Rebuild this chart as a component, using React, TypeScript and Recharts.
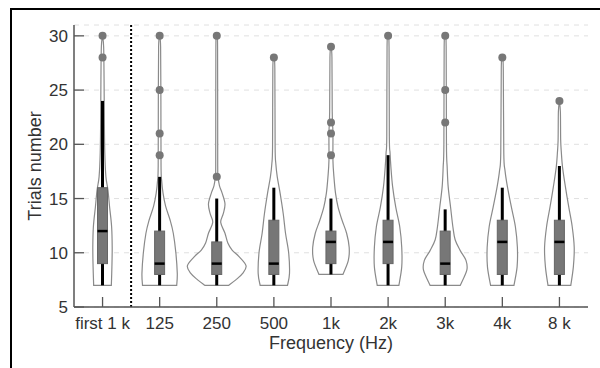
import React from 'react';
import { ComposedChart, Bar, Scatter, XAxis, YAxis, CartesianGrid, ReferenceLine, Label } from 'recharts';

// categories along the frequency axis
const categories = ['first 1 k', '125', '250', '500', '1k', '2k', '3k', '4k', '8 k'];

// violin extent (bottom is cut at the smallest observation)
const violinMin = [7, 7, 7, 7, 8, 7, 7, 7, 7];
const violinMax = [30, 30, 30, 28, 29, 30, 30, 28, 24];

// box plot stats
const whiskerLow = [7, 7, 7, 7, 8, 7, 7, 7, 7];
const whiskerHigh = [24, 17, 15, 16, 15, 19, 14, 16, 18];
const q1 = [9, 8, 8, 8, 9, 9, 8, 8, 8];
const medians = [12, 9, 9, 9, 11, 11, 9, 11, 11];
const q3 = [16, 12, 11, 13, 12, 13, 12, 13, 13];
const outliers = [
  [28, 30],
  [19, 21, 25, 30],
  [17, 30],
  [28],
  [19, 21, 22, 29],
  [30],
  [22, 25, 30],
  [28],
  [24],
];

// density profile per violin: [value, relative half width in % of half band]
const densityProfiles: [number, number][][] = [
  [[7, 31], [8.7, 33], [10.5, 34], [12.4, 32], [14.2, 25], [15.8, 19], [17, 12], [19.2, 8], [22, 6.5], [26, 5.5], [29, 4], [30, 0]],
  [[7, 60], [8.1, 62], [10, 57], [11.8, 48], [13, 37], [14.3, 21], [15.5, 12], [16.7, 7], [18, 5], [24, 4.5], [29, 3.5], [30, 0]],
  [[7, 42], [7.5, 67], [8.1, 91], [8.8, 103], [9.6, 80], [10.25, 54], [10.9, 39], [11.8, 29], [12.8, 14], [13.6, 23], [14.5, 29], [15.5, 19], [16.2, 9.5], [17, 5], [18, 3.5], [29, 3], [30, 0]],
  [[7, 48], [8.1, 55], [10, 52], [11.8, 41], [13.6, 33], [15.5, 22], [17, 12], [18.2, 7], [19.8, 4.5], [27, 3.5], [28, 0]],
  [[8, 42], [9.3, 61], [10.5, 64], [11.8, 55], [13, 39], [14.2, 25], [15.5, 16], [17, 10.5], [18.5, 7], [21, 7], [23, 4.5], [28, 3.5], [29, 0]],
  [[7, 38], [8.7, 48], [10.5, 48], [12.4, 41], [14.2, 27], [16.1, 16], [17.9, 10], [19.2, 7], [20.7, 4.5], [29, 3.5], [30, 0]],
  [[7, 53], [8.4, 76], [9.3, 73], [10.2, 53], [11.2, 35], [12.4, 27], [14.2, 19], [16.1, 10.5], [17.9, 7], [20, 4.5], [29, 3.5], [30, 0]],
  [[7, 41], [8.7, 52], [10.5, 53], [12.4, 46], [14.2, 32], [16.1, 18], [17.6, 9.5], [19.2, 5.3], [27, 3.5], [28, 0]],
  [[7, 40], [8.7, 49], [10.5, 52], [12.4, 45], [14.2, 33], [16.1, 21], [17.9, 11], [19.2, 7], [20.4, 4.5], [23, 3.5], [24, 0]],
];

const yTicks = [5, 10, 15, 20, 25, 30];

const rows = categories.map((cat, i) => ({
  cat,
  range: [violinMin[i], violinMax[i]],
  idx: i,
}));

const outlierRows = outliers.flatMap((vals, i) => vals.map(val => ({ cat: categories[i], val })));

// catmull-rom through points -> cubic bezier segments
function curveThrough(pts: number[][]) {
  let d = '';
  for (let i = 0; i < pts.length - 1; i++) {
    const p0 = pts[Math.max(i - 1, 0)];
    const p1 = pts[i];
    const p2 = pts[i + 1];
    const p3 = pts[Math.min(i + 2, pts.length - 1)];
    const c1x = p1[0] + (p2[0] - p0[0]) / 6;
    const c1y = p1[1] + (p2[1] - p0[1]) / 6;
    const c2x = p2[0] - (p3[0] - p1[0]) / 6;
    const c2y = p2[1] - (p3[1] - p1[1]) / 6;
    d += ` C${c1x},${c1y} ${c2x},${c2y} ${p2[0]},${p2[1]}`;
  }
  return d;
}

function ViolinShape(props: any) {
  const { x, y, width, height, payload } = props;
  const i = payload.idx;
  const [lo, hi] = payload.range;
  // linear map value -> pixel using the bar's own scaled extent
  const py = (v: number) => y + (height * (hi - v)) / (hi - lo);
  const cx = x + width / 2;
  const hw = width / 2;
  const prof = densityProfiles[i];

  const right = prof.map(([v, d]) => [cx + (d / 100) * hw, py(v)]);
  const left = prof.map(([v, d]) => [cx - (d / 100) * hw, py(v)]).reverse();
  const path =
    `M${left[left.length - 1][0]},${left[left.length - 1][1]} L${right[0][0]},${right[0][1]}` +
    curveThrough(right) +
    curveThrough(left) +
    ' Z';

  const boxHalf = 5;
  return (
    <g>
      <path d={path} fill="#fff" stroke="#8a8a8a" strokeWidth={1.2} />
      <line x1={cx} x2={cx} y1={py(whiskerLow[i])} y2={py(whiskerHigh[i])} stroke="#000" strokeWidth={3} />
      <rect
        x={cx - boxHalf}
        y={py(q3[i])}
        width={boxHalf * 2}
        height={py(q1[i]) - py(q3[i])}
        fill="#777"
        stroke="#666"
        strokeWidth={1}
      />
      <line x1={cx - boxHalf} x2={cx + boxHalf} y1={py(medians[i])} y2={py(medians[i])} stroke="#000" strokeWidth={2.5} />
    </g>
  );
}

export default function App() {
  return (
    <div
      style={{
        position: 'absolute',
        left: 0,
        top: 0,
        width: 600,
        height: 368,
        overflow: 'hidden',
        background: '#fff',
        fontFamily: '"Liberation Sans", Arial, sans-serif',
      }}
    >
      <div
        style={{
          position: 'absolute',
          left: 10,
          top: 8,
          width: 620,
          height: 400,
          borderTop: '2.5px solid #000',
          borderLeft: '2.5px solid #000',
          boxSizing: 'border-box',
        }}
      />
      <div style={{ position: 'absolute', left: 0, top: 0 }}>
        <ComposedChart
          width={600}
          height={368}
          data={rows}
          margin={{ top: 25, right: 12, bottom: 0, left: 0 }}
          barCategoryGap={0}
          barGap={0}
        >
          <CartesianGrid horizontal vertical={false} strokeDasharray="5 5" stroke="#e0e0e0" />
          <XAxis
            dataKey="cat"
            allowDuplicatedCategory={false}
            height={61}
            interval={0}
            tickSize={-10}
            tickMargin={20}
            tick={{ fontSize: 17, fill: '#333' }}
            axisLine={{ stroke: '#555', strokeWidth: 1.5 }}
            tickLine={{ stroke: '#555', strokeWidth: 1.3 }}
          >
            <Label value="Frequency (Hz)" position="center" dy={5} style={{ fontSize: 18, fill: '#333' }} />
          </XAxis>
          <YAxis
            type="number"
            domain={[5, 31]}
            ticks={yTicks}
            width={74}
            tickSize={-10}
            tickMargin={16}
            tick={{ fontSize: 17, fill: '#333' }}
            axisLine={{ stroke: '#555', strokeWidth: 1.5 }}
            tickLine={{ stroke: '#555', strokeWidth: 1.3 }}
          >
            <Label value="Trials number" position="center" angle={-90} dx={-2} style={{ fontSize: 18, fill: '#333' }} />
          </YAxis>
          <ReferenceLine x="first 1 k" position="end" stroke="#000" strokeWidth={2} strokeDasharray="2 2" />
          <Bar dataKey="range" shape={ViolinShape} isAnimationActive={false} />
          <Scatter
            data={outlierRows}
            dataKey="val"
            isAnimationActive={false}
            shape={(p: any) => <circle cx={p.cx} cy={p.cy} r={4} fill="#777" />}
          />
        </ComposedChart>
      </div>
    </div>
  );
}
